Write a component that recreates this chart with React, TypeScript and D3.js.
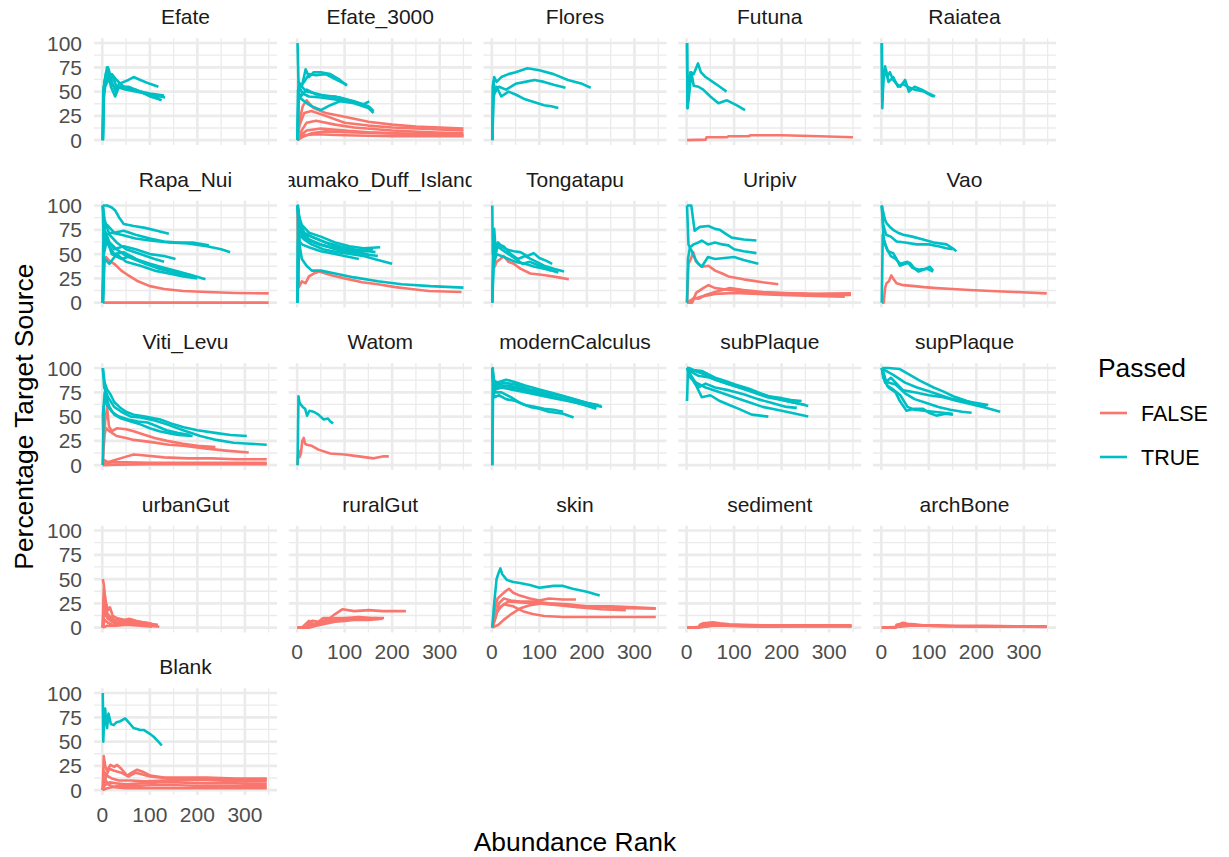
import React from "react";
import * as d3 from "d3";

type Pt = [number, number];
type Line = { passed: boolean; pts: Pt[] };
const T = (pts: Pt[]): Line => ({ passed: true, pts });
const F = (pts: Pt[]): Line => ({ passed: false, pts });

// ---------- categories / ticks ----------
const panelNames = [
  "Efate", "Efate_3000", "Flores", "Futuna", "Raiatea",
  "Rapa_Nui", "Taumako_Duff_Islands", "Tongatapu", "Uripiv", "Vao",
  "Viti_Levu", "Watom", "modernCalculus", "subPlaque", "supPlaque",
  "urbanGut", "ruralGut", "skin", "sediment", "archBone",
  "Blank",
];
const xTicks = [0, 100, 200, 300];
const xMinor = [50, 150, 250, 350];
const yTicks = [0, 25, 50, 75, 100];
const yMinor = [12.5, 37.5, 62.5, 87.5];
const legendLevels = ["FALSE", "TRUE"];

// ---------- series (rank, percentage) ----------
const efate: Line[] = [
  T([[1,0],[2,50],[5,60],[10,75],[14,72],[20,60],[28,50],[35,58],[45,60],[55,62],[66,65],[80,62],[100,58],[118,55]]),
  T([[1,0],[3,50],[8,70],[15,60],[25,55],[40,55],[60,52],[80,50],[100,48],[130,46]]),
  T([[1,0],[3,55],[10,65],[20,68],[30,62],[45,55],[70,52],[90,48],[110,44],[125,41]]),
  T([[1,0],[2,40],[6,55],[12,62],[22,65],[30,55],[50,52],[70,50],[100,47],[132,44]]),
  T([[1,0],[4,60],[12,75],[18,55],[27,45],[35,55],[55,55],[80,50],[100,45],[122,42]]),
];
const efate3000: Line[] = [
  F([[1,0],[5,20],[12,35],[20,41],[35,33],[60,28],[100,24],[150,19],[200,16],[250,14],[300,13],[350,12]]),
  F([[1,0],[5,15],[15,28],[30,30],[60,25],[100,18],[150,15],[200,13],[300,11],[350,10]]),
  F([[1,0],[10,10],[20,18],[40,20],[80,16],[120,13],[200,10],[280,8],[350,7]]),
  F([[1,0],[8,5],[20,10],[50,12],[100,10],[150,8],[250,6],[350,5]]),
  F([[1,0],[10,3],[30,7],[60,9],[120,8],[200,7],[350,5]]),
  F([[1,0],[15,5],[40,6],[100,5],[200,4],[350,4]]),
  T([[1,100],[3,60],[10,55],[18,73],[25,65],[35,70],[50,70],[70,68],[90,62],[105,56]]),
  T([[1,50],[5,55],[15,60],[25,68],[40,67],[60,68],[80,63],[105,57]]),
  T([[1,0],[3,60],[10,55],[20,50],[40,48],[60,45],[80,45],[100,42],[130,38],[155,33]]),
  T([[1,0],[2,50],[8,45],[20,52],[40,47],[60,46],[90,44],[120,40],[150,35],[161,30]]),
  T([[1,0],[3,45],[15,40],[30,35],[50,31],[70,36],[90,40],[120,38],[150,33],[161,28]]),
  T([[1,0],[4,55],[12,48],[25,45],[50,44],[80,42],[110,40],[140,37],[152,40]]),
];
const flores: Line[] = [
  T([[1,0],[2,55],[5,65],[10,60],[20,65],[35,68],[50,70],[75,74],[100,72],[130,68],[160,62],[190,58],[208,54]]),
  T([[1,0],[3,60],[8,50],[15,55],[30,52],[50,58],[70,60],[90,62],[110,60],[130,57],[155,54]]),
  T([[1,0],[4,45],[10,55],[20,45],[35,50],[50,47],[70,42],[90,39],[110,36],[125,35],[140,33]]),
];
const futuna: Line[] = [
  F([[1,0],[40,0.5],[42,3],[85,3],[88,4],[130,4],[135,5],[200,5],[280,4],[350,3]]),
  T([[1,100],[2,33],[4,50],[8,70],[15,68],[24,79],[30,70],[40,65],[55,60],[70,55],[84,50]]),
  T([[1,100],[2,33],[5,45],[10,70],[15,56],[25,55],[35,52],[50,45],[67,38],[85,41],[105,36],[123,31]]),
];
const raiatea: Line[] = [
  T([[1,100],[2,33],[4,60],[8,76],[12,65],[18,70],[25,62],[32,58],[40,55],[50,62],[58,50],[70,55],[85,52],[100,48],[113,45]]),
  T([[1,100],[2,40],[5,70],[10,72],[15,60],[25,65],[35,55],[45,58],[55,55],[70,52],[90,50],[105,46],[110,45]]),
];
const rapaNui: Line[] = [
  F([[1,0],[350,0]]),
  F([[1,0],[3,46],[8,47],[15,43],[25,40],[40,33],[55,28],[75,22],[100,17],[130,14],[170,12],[220,11],[280,10],[350,9.5]]),
  T([[1,100],[10,100],[20,98],[27,95],[35,88],[45,81],[66,79],[90,77],[115,74],[140,71]]),
  T([[1,0],[3,75],[10,80],[25,72],[45,74],[70,70],[100,66],[130,63],[160,62],[190,62],[224,59]]),
  T([[1,0],[2,60],[8,70],[20,72],[40,70],[70,66],[100,64],[140,62],[180,61],[220,58],[250,55],[269,52]]),
  T([[1,100],[3,60],[10,65],[25,55],[45,58],[70,55],[100,50],[130,48],[154,45]]),
  T([[1,0],[4,70],[12,60],[25,50],[45,52],[70,45],[100,40],[130,36],[160,32],[190,28],[217,24]]),
  T([[1,100],[5,75],[15,62],[30,55],[50,48],[80,42],[110,38],[140,33],[170,30],[190,28]]),
  T([[1,0],[3,50],[10,65],[20,50],[40,45],[60,48],[90,40],[120,35],[150,31],[180,28]]),
  T([[1,0],[5,45],[15,40],[30,50],[50,42],[80,38],[110,33],[140,30],[170,27],[200,25]]),
  T([[1,100],[5,85],[15,70],[30,62],[50,55],[80,50],[110,45],[130,42]]),
];
const taumako: Line[] = [
  F([[1,100],[2,40],[4,16],[10,22],[18,20],[25,27],[35,30],[46,32],[60,30],[74,28],[100,25],[137,21],[170,19],[207,16],[240,14],[277,12],[346,11]]),
  T([[1,0],[2,100],[5,60],[10,45],[20,38],[31,33],[50,33],[80,30],[120,26],[170,22],[220,19],[280,17],[350,15.5]]),
  T([[1,100],[3,90],[10,80],[25,72],[50,68],[80,62],[110,58],[140,56],[175,57]]),
  T([[1,100],[5,85],[15,72],[30,68],[60,62],[90,58],[120,55],[150,53],[165,52]]),
  T([[1,0],[3,80],[10,75],[25,65],[50,60],[80,55],[110,52],[140,48],[170,44],[200,40]]),
  T([[1,100],[4,75],[15,68],[35,62],[60,58],[90,55],[120,52],[150,50]]),
  T([[1,0],[5,70],[15,65],[30,60],[55,55],[85,52],[115,50],[140,48]]),
  T([[1,100],[6,72],[20,70],[40,66],[70,60],[100,55],[130,53],[160,55]]),
  T([[1,0],[2,65],[10,60],[25,57],[50,53],[80,50],[110,47],[130,45]]),
  T([[1,100],[8,78],[20,65],[45,60],[75,57],[105,53],[140,50],[170,48]]),
];
const tongatapu: Line[] = [
  F([[1,50],[3,50],[6,37],[10,42],[18,45],[25,48],[35,42],[46,40],[60,35],[81,30],[100,29],[116,28],[140,26],[162,24]]),
  T([[1,0],[3,60],[5,76],[8,55],[13,62],[20,58],[30,55],[46,53],[60,52],[75,48],[88,51],[100,46],[115,43],[127,40]]),
  T([[1,0],[3,45],[8,55],[15,60],[25,58],[40,50],[55,45],[70,48],[90,43],[110,38],[130,35],[152,32]]),
  T([[1,100],[2,50],[6,45],[12,58],[20,55],[35,50],[50,45],[65,40],[80,42],[100,38],[120,34],[140,31]]),
  T([[1,0],[4,40],[10,50],[20,48],[35,45],[50,42],[70,40],[90,37],[110,35],[125,33]]),
];
const uripiv: Line[] = [
  F([[1,0],[4,40],[9,45],[14,52],[20,42],[32,37],[46,38],[60,33],[75,30],[88,27],[120,24],[160,21],[193,19]]),
  F([[1,0],[12,0],[20,10],[35,15],[46,18],[60,15],[90,13],[130,11],[180,10],[250,9],[300,8],[346,8]]),
  F([[1,0],[8,0],[15,5],[25,4],[40,8],[60,11],[91,15],[120,13],[160,11],[207,10],[260,9],[346,9.5]]),
  F([[1,0],[10,3],[30,6],[60,9],[100,10],[150,9],[200,8],[270,7],[333,6]]),
  T([[1,100],[10,100],[14,85],[17,74],[22,76],[28,78],[46,79],[60,76],[70,75],[85,70],[95,67],[120,65],[147,64]]),
  T([[1,0],[3,45],[7,57],[15,60],[25,62],[32,64],[45,60],[60,62],[75,60],[88,59],[100,55],[120,53],[147,51]]),
  T([[1,100],[4,60],[10,54],[18,45],[25,40],[32,37],[45,47],[60,45],[80,46],[100,47],[120,44],[151,40]]),
];
const vao: Line[] = [
  F([[1,0],[5,0],[8,15],[11,20],[16,22],[21,28],[26,24],[32,20],[46,18],[70,17],[90,16],[116,15],[150,14],[186,13],[230,12],[280,11],[348,9.5]]),
  T([[1,100],[3,95],[8,85],[11,82],[18,78],[25,75],[35,72],[46,70],[65,68],[88,65],[110,62],[137,60],[150,56],[158,53]]),
  T([[1,100],[4,80],[10,70],[20,68],[32,63],[50,62],[74,60],[100,60],[120,58],[137,56],[150,55]]),
  T([[1,0],[3,70],[8,60],[14,53],[25,51],[32,45],[39,38],[50,40],[60,41],[70,35],[78,32],[90,34],[102,37],[109,33]]),
  T([[1,100],[5,65],[12,55],[20,48],[30,45],[40,40],[55,42],[65,36],[80,34],[95,35],[109,32]]),
];
const vitiLevu: Line[] = [
  T([[1,100],[5,85],[10,78],[17,73],[25,65],[38,59],[50,55],[66,52],[90,50],[122,47],[150,42],[171,39],[200,36],[241,33],[270,31],[304,30]]),
  T([[1,100],[4,80],[12,70],[25,60],[40,55],[60,50],[80,49],[110,46],[136,42],[170,36],[206,30],[240,26],[276,23],[310,22],[346,21]]),
  T([[1,0],[3,60],[8,70],[15,60],[25,52],[40,48],[60,45],[80,42],[100,38],[120,35],[140,33],[160,31],[190,30]]),
  T([[1,50],[5,75],[10,62],[20,55],[35,50],[55,47],[75,45],[95,44],[115,40],[135,36],[160,33],[185,31]]),
  F([[1,50],[3,20],[6,45],[10,60],[14,40],[20,35],[31,38],[50,37],[66,35],[90,31],[110,28],[136,25],[170,22],[200,20],[238,18.6]]),
  F([[1,0],[4,30],[8,38],[15,35],[30,30],[50,28],[66,26],[100,24],[140,21],[171,20],[220,17],[260,15],[308,13]]),
  F([[1,0],[5,5],[12,3],[25,5],[45,8],[66,11],[90,10],[130,8],[180,7],[230,7],[280,6],[346,6]]),
  F([[1,0],[8,2],[20,3],[50,3],[100,2.5],[150,2.5],[250,2.5],[346,2.5]]),
  F([[1,0],[30,0.5],[100,1],[200,1],[346,1]]),
];
const watom: Line[] = [
  F([[1,0],[3,15],[5,8],[8,12],[11,25],[14,28],[17,22],[21,21],[30,20],[45,16],[70,12],[100,11],[130,9],[161,7],[180,9],[193,9]]),
  T([[1,0],[3,71],[5,65],[7,63],[12,60],[17,58],[21,51],[26,56],[35,55],[45,52],[56,47],[65,48],[70,45],[76,43]]),
];
const modernCalculus: Line[] = [
  T([[1,0],[2,100],[5,80],[10,85],[30,88],[46,86],[70,82],[100,78],[130,74],[160,70],[187,66],[210,63],[232,60]]),
  T([[1,100],[4,75],[10,82],[25,85],[50,83],[80,78],[110,75],[140,72],[170,68],[200,64],[225,62]]),
  T([[1,100],[3,85],[12,80],[30,82],[60,80],[90,76],[120,72],[150,68],[180,65],[210,61],[230,61]]),
  T([[1,0],[3,90],[8,78],[20,80],[40,78],[70,75],[100,72],[130,69],[160,66],[190,63],[220,60]]),
  T([[1,100],[5,70],[15,72],[30,68],[50,66],[70,62],[90,60],[110,58],[130,57],[150,55]]),
  T([[1,100],[6,75],[20,75],[40,70],[60,64],[80,60],[100,58],[120,55],[150,53],[172,49]]),
  T([[1,100],[4,88],[15,83],[40,80],[70,77],[100,73],[140,69],[180,64],[220,58]]),
];
const subPlaque: Line[] = [
  T([[1,100],[5,100],[15,98],[32,97],[60,90],[80,87],[102,83],[130,79],[150,75],[172,71],[200,69],[220,67],[242,66]]),
  T([[1,100],[10,98],[30,95],[60,88],[90,83],[120,79],[150,74],[180,70],[210,66],[240,63],[256,61]]),
  T([[1,100],[8,90],[20,85],[40,80],[70,75],[100,70],[130,65],[160,60],[190,57],[220,54],[256,50]]),
  T([[1,66],[3,100],[10,90],[20,82],[32,70],[50,72],[70,66],[90,62],[110,58],[137,52],[155,51],[172,50]]),
  T([[1,100],[6,95],[15,88],[25,80],[40,84],[60,80],[90,77],[120,73],[150,68],[180,64],[210,60],[232,59]]),
  T([[1,100],[10,96],[25,92],[50,90],[80,85],[110,80],[140,75],[170,70],[200,67],[230,64],[250,62]]),
];
const supPlaque: Line[] = [
  T([[1,100],[15,100],[39,99],[60,93],[81,87],[110,80],[130,76],[151,71],[180,66],[200,63],[221,61]]),
  T([[1,100],[8,85],[20,90],[46,77],[70,75],[100,72],[130,70],[160,66],[187,63],[220,59],[250,55]]),
  T([[1,100],[6,88],[15,80],[30,75],[39,66],[53,56],[70,58],[88,58],[100,54],[116,51],[135,53],[151,52]]),
  T([[1,100],[5,95],[12,82],[25,78],[40,72],[55,60],[70,57],[90,56],[110,55],[130,54],[150,53]]),
  T([[1,100],[10,97],[25,93],[50,85],[75,80],[100,76],[125,72],[150,68],[175,66],[200,64],[225,62]]),
  T([[1,100],[4,90],[15,85],[30,83],[50,74],[70,68],[95,64],[120,60],[145,57],[170,55],[190,54]]),
];
const urbanGut: Line[] = [
  F([[1,50],[3,45],[5,35],[8,25],[12,18],[16,21],[22,12],[30,10],[45,8],[60,7],[80,5],[100,4],[117,3]]),
  F([[1,0],[3,40],[6,25],[10,15],[15,12],[25,8],[40,7],[55,9],[70,7],[90,5],[110,3]]),
  F([[1,0],[4,20],[8,12],[15,10],[25,5],[40,4],[58,9],[75,6],[95,5],[115,2]]),
  F([[1,0],[5,8],[12,5],[20,3],[35,4],[50,6],[70,4],[90,3],[108,2]]),
  F([[1,0],[10,2],[30,2],[50,3],[80,2],[105,1]]),
  F([[1,0],[3,30],[6,18],[10,10],[20,6],[35,5],[55,4],[80,3],[100,2],[120,1]]),
];
const ruralGut: Line[] = [
  F([[1,0],[20,0],[25,5],[32,7],[45,6],[55,10],[69,10],[80,14],[96,19],[120,17],[151,18],[180,17],[210,17],[229,17]]),
  F([[1,0],[15,0],[30,3],[45,5],[60,8],[80,10],[100,10],[130,11],[160,10],[183,10]]),
  F([[1,0],[10,0],[25,7],[35,3],[50,5],[70,7],[90,8],[110,9],[140,9],[165,10],[180,9]]),
  F([[1,0],[25,0],[40,2],[60,4],[80,6],[100,7],[120,8],[150,8],[175,9]]),
];
const skin: Line[] = [
  F([[1,0],[5,15],[12,30],[23,35],[30,38],[36,40],[45,36],[59,33],[80,30],[100,28],[120,30],[150,29],[177,29]]),
  F([[1,0],[8,10],[15,25],[25,30],[40,28],[60,27],[90,27],[120,25],[160,24],[200,22],[250,22],[300,21],[345,20]]),
  F([[1,0],[10,15],[20,22],[35,27],[60,26],[100,25],[140,23],[180,21],[230,19],[282,18]]),
  F([[1,0],[5,10],[12,18],[25,24],[45,22],[65,17],[86,14],[110,12],[150,11],[200,11],[260,11],[345,11]]),
  F([[1,0],[14,3],[25,8],[41,14],[60,20],[80,23],[105,25],[140,24],[180,22],[230,21],[290,20],[345,19.5]]),
  T([[1,0],[5,25],[10,50],[14,56],[18,61],[22,55],[32,49],[45,47],[59,46],[80,44],[100,41],[114,42],[130,43],[150,43],[170,40],[200,37],[227,33]]),
];
const sediment: Line[] = [
  F([[1,0],[25,0],[28,3],[35,4.5],[45,5],[55,5.5],[70,4.5],[90,3.5],[120,3],[160,2.5],[220,2.5],[280,2.5],[347,2.5]]),
  F([[1,0],[25,0],[30,2],[40,3],[60,4],[80,3],[100,2],[150,1.5],[200,1.5],[260,1.5],[347,1.5]]),
  F([[1,0],[30,0.5],[50,2],[80,2],[110,1.5],[160,1],[230,1.2],[300,1.3],[347,1.2]]),
  F([[1,0],[40,1],[70,3],[100,2.5],[140,2],[200,1.8],[260,2],[320,2],[347,2]]),
];
const archBone: Line[] = [
  F([[1,0],[30,0],[32,3],[40,4],[46,5],[55,4],[70,3.5],[88,2.5],[120,2.5],[160,2],[220,1.8],[280,1.5],[348,1.5]]),
  F([[1,0],[30,0],[35,2],[50,3],[70,2.5],[100,2],[140,1.5],[200,1],[260,1],[348,1]]),
  F([[1,0],[40,1],[60,2],[90,2],[130,1.5],[180,1.2],[240,1],[300,1],[348,0.8]]),
];
const blank: Line[] = [
  F([[1,0],[3,35],[6,25],[10,20],[17,26],[25,24],[31,26],[40,22],[52,15],[62,18],[73,21],[85,19],[101,15],[130,13],[170,13],[220,13],[280,12],[346,12]]),
  F([[1,0],[3,20],[8,15],[15,22],[25,20],[40,18],[55,14],[70,18],[85,16],[100,14],[140,12],[200,12],[260,11],[346,11]]),
  F([[1,0],[4,10],[10,15],[20,12],[35,10],[60,10],[90,9],[130,10],[180,11],[240,10],[300,9],[346,9]]),
  F([[1,0],[5,5],[15,8],[30,7],[50,6],[80,7],[120,8],[160,8],[220,7],[280,7],[346,6]]),
  F([[1,0],[10,2],[30,4],[60,4],[100,5],[160,5],[230,4],[300,4],[346,4]]),
  F([[1,0],[5,12],[12,6],[25,3],[50,2],[100,2],[200,2],[346,2]]),
  T([[1,100],[2,50],[4,75],[6,84],[8,70],[10,64],[13,79],[18,68],[24,67],[30,70],[38,71],[48,74],[55,70],[66,64],[80,62],[87,62],[100,58],[108,55],[118,50],[125,46]]),
];

const panelLines: Line[][] = [
  efate, efate3000, flores, futuna, raiatea,
  rapaNui, taumako, tongatapu, uripiv, vao,
  vitiLevu, watom, modernCalculus, subPlaque, supPlaque,
  urbanGut, ruralGut, skin, sediment, archBone,
  blank,
];

// ---------- layout ----------
const W = 1229, H = 857;
const NCOL = 5;
const colLeft = (c: number) => 94 + c * 194.75;
const rowTop = (r: number) => 38.2 + r * 162.5;
const PW = 183, PH = 106.8;
const COLORS: Record<string, string> = { FALSE: "#F8766D", TRUE: "#00BFC4" };
const FONT = "'Liberation Sans', Arial, Helvetica, sans-serif";

const xMax = 350;
const xPad = xMax * 0.05;
const x = d3.scaleLinear().domain([-xPad, xMax + xPad]).range([0, PW]);
const y = d3.scaleLinear().domain([-5, 105]).range([PH, 0]);
const lineGen = d3.line<Pt>().x((d) => x(d[0])).y((d) => y(d[1]));

export default function App() {
  const n = panelNames.length;
  return (
    <svg width={W} height={H} viewBox={`0 0 ${W} ${H}`}
      style={{ position: "absolute", left: 0, top: 0, display: "block", background: "#fff" }}
      fontFamily={FONT}>
      <defs>
        {panelNames.map((_, i) => {
          const c = i % NCOL, r = Math.floor(i / NCOL);
          return (
            <clipPath id={`strip-${i}`} key={i}>
              <rect x={colLeft(c)} y={rowTop(r) - 40} width={PW} height={40} />
            </clipPath>
          );
        })}
      </defs>
      <rect x={0} y={0} width={W} height={H} fill="#fff" />
      {panelNames.map((name, i) => {
        const c = i % NCOL, r = Math.floor(i / NCOL);
        const L = colLeft(c), Tp = rowTop(r);
        const hasXAxis = i + NCOL >= n;
        const lines = panelLines[i];
        const ordered = [...lines.filter((l) => !l.passed), ...lines.filter((l) => l.passed)];
        return (
          <g key={name}>
            <text x={L + PW / 2} y={Tp - 14} textAnchor="middle" fontSize={21} fill="#1A1A1A"
              clipPath={`url(#strip-${i})`}>{name}</text>
            <g transform={`translate(${L},${Tp})`}>
              {yMinor.map((v) => (
                <line key={`ym${v}`} x1={0} x2={PW} y1={y(v)} y2={y(v)} stroke="#EBEBEB" strokeWidth={1.3} />
              ))}
              {xMinor.map((v) => (
                <line key={`xm${v}`} y1={0} y2={PH} x1={x(v)} x2={x(v)} stroke="#EBEBEB" strokeWidth={1.3} />
              ))}
              {yTicks.map((v) => (
                <line key={`yM${v}`} x1={0} x2={PW} y1={y(v)} y2={y(v)} stroke="#EBEBEB" strokeWidth={2.6} />
              ))}
              {xTicks.map((v) => (
                <line key={`xM${v}`} y1={0} y2={PH} x1={x(v)} x2={x(v)} stroke="#EBEBEB" strokeWidth={2.6} />
              ))}
              {ordered.map((l, j) => (
                <path key={j} d={lineGen(l.pts) || ""} fill="none"
                  stroke={l.passed ? COLORS.TRUE : COLORS.FALSE}
                  strokeWidth={2.6} strokeLinejoin="round" strokeLinecap="butt" />
              ))}
              {c === 0 && yTicks.map((v) => (
                <text key={`yl${v}`} x={-12} y={y(v)} dy="0.36em" textAnchor="end" fontSize={21} fill="#4D4D4D">{v}</text>
              ))}
              {hasXAxis && xTicks.map((v) => (
                <text key={`xl${v}`} x={x(v)} y={PH + 27} textAnchor="middle" fontSize={21} fill="#4D4D4D">{v}</text>
              ))}
            </g>
          </g>
        );
      })}
      {/* axis titles */}
      <text x={(colLeft(0) + colLeft(4) + PW) / 2} y={851} textAnchor="middle" fontSize={26.4} fill="#000">Abundance Rank</text>
      <text transform={`translate(33,${(rowTop(0) + rowTop(4) + PH) / 2}) rotate(-90)`} textAnchor="middle"
        fontSize={26.4} fill="#000">Percentage Target Source</text>
      {/* legend */}
      <text x={1098} y={377} fontSize={26.4} fill="#000">Passed</text>
      {legendLevels.map((lv, k) => {
        const cy = 413 + k * 44;
        return (
          <g key={lv}>
            <line x1={1100} x2={1127} y1={cy} y2={cy} stroke={COLORS[lv]} strokeWidth={2.6} />
            <text x={1141} y={cy} dy="0.36em" fontSize={21.5} fill="#000">{lv}</text>
          </g>
        );
      })}
    </svg>
  );
}
